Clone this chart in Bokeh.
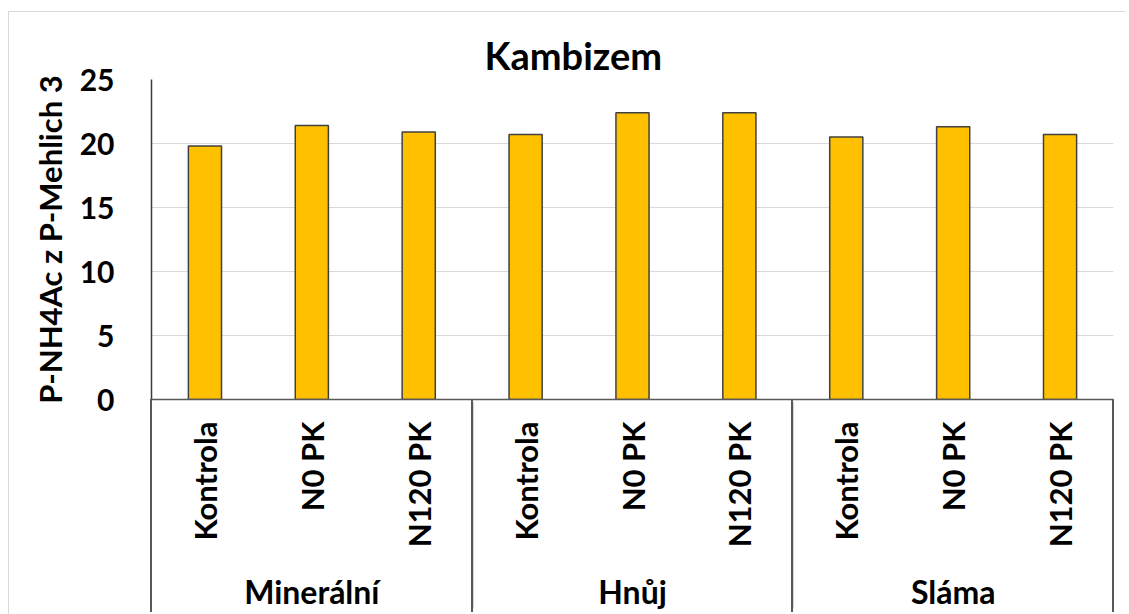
from math import pi
from bokeh.plotting import figure
from bokeh.models import FactorRange, ColumnDataSource, FixedTicker
from bokeh.embed import file_html
from bokeh.resources import INLINE

groups = ["Minerální", "Hnůj", "Sláma"]
treatments = ["Kontrola", "N0 PK", "N120 PK"]
values = [19.8, 21.4, 20.9, 20.7, 22.4, 22.4, 20.5, 21.3, 20.7]
title_text = "Kambizem"
y_label = "P-NH4Ac z P-Mehlich 3"
y_ticks = [0, 5, 10, 15, 20, 25]

FONT = "Lato"
AXIS_GRAY = "#595959"
factors = [(g, t) for g in groups for t in treatments]
src = ColumnDataSource(dict(x=factors, top=values))

W, H = 1125, 614
LEFT, RIGHT, TOP, BOTTOM = 151, 12, 79, 215
frame_w = W - LEFT - RIGHT

# light chart-area border and the category-axis divider lines (drawn as page CSS
# behind the transparent canvas border, since annotations are clipped to the frame)
def css_line(x, y, w, h, color):
    return f"linear-gradient({color},{color}) {x}px {y}px / {w}px {h}px no-repeat"

n_per_group = len(treatments)
divider_xs = [LEFT + frame_w * k * n_per_group / len(factors) for k in range(len(groups) + 1)]
layers = [css_line(8, 11, W - 8, 1, "#d9d9d9"), css_line(8, 11, 1, H - 11, "#d9d9d9")]
for dx in divider_xs:
    layers.append(css_line(round(dx - 1), H - BOTTOM, 2, BOTTOM - 2, AXIS_GRAY))

p = figure(width=W, height=H,
           x_range=FactorRange(*factors, range_padding=0, group_padding=0, factor_padding=0),
           y_range=(0, 25),
           output_backend="svg", toolbar_location=None,
           min_border_left=LEFT, min_border_right=RIGHT,
           min_border_top=TOP, min_border_bottom=BOTTOM)
p.styles = {"background": ", ".join(layers) + ", white"}
p.outline_line_color = None
p.background_fill_color = "white"
p.border_fill_color = None

p.title.text = title_text
p.title.align = "left"
p.title.offset = 333
p.title.standoff = 4
p.title.text_font = FONT
p.title.text_font_style = "bold"
p.title.text_font_size = "38px"
p.title.text_color = "black"

p.vbar(x="x", top="top", width=0.31, source=src, fill_color="#FFC000",
       line_color="#404040", line_width=1.5)

# y axis
p.yaxis.ticker = FixedTicker(ticks=y_ticks)
p.yaxis.major_tick_line_color = None
p.yaxis.minor_tick_line_color = None
p.yaxis.axis_line_color = "#3a3a3a"
p.yaxis.axis_line_width = 1.5
p.yaxis.major_label_text_font = FONT
p.yaxis.major_label_text_font_style = "bold"
p.yaxis.major_label_text_font_size = "30px"
p.yaxis.major_label_text_color = "black"
p.yaxis.major_label_standoff = 31
p.yaxis.axis_label = y_label
p.yaxis.axis_label_text_font = FONT
p.yaxis.axis_label_text_font_style = "bold"
p.yaxis.axis_label_text_font_size = "31px"
p.yaxis.axis_label_text_color = "black"
p.yaxis.axis_label_standoff = 8

p.ygrid.grid_line_color = "#d9d9d9"
p.ygrid.grid_line_width = 1
p.xgrid.grid_line_color = None

# x axis
xa = p.xaxis[0]
xa.axis_line_color = AXIS_GRAY
xa.axis_line_width = 1.5
xa.major_tick_line_color = None
xa.major_tick_out = 0
xa.major_tick_in = 0
xa.major_label_orientation = pi / 2
xa.major_label_text_font = FONT
xa.major_label_text_font_style = "bold"
xa.major_label_text_font_size = "31px"
xa.major_label_text_color = "black"
xa.major_label_standoff = 22
xa.group_text_font = FONT
xa.group_text_font_style = "bold"
xa.group_text_font_size = "32px"
xa.group_text_color = "black"
xa.separator_line_color = AXIS_GRAY
xa.separator_line_width = 1.5

open("out.html", "w").write(file_html(p, INLINE))
